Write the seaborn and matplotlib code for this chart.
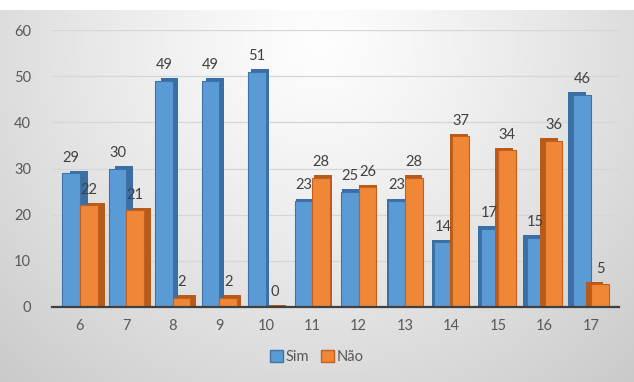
import numpy as np
import pandas as pd
import matplotlib
matplotlib.use("Agg")
import matplotlib.pyplot as plt
from matplotlib.patches import Patch
import seaborn as sns

# Chart data
categories = ["6", "7", "8", "9", "10", "11", "12", "13", "14", "15", "16", "17"]
sim = [29, 30, 49, 49, 51, 23, 25, 23, 14, 17, 15, 46]
nao = [22, 21, 2, 2, 0, 28, 26, 28, 37, 34, 36, 5]
series_names = ["Sim", "Não"]
y_ticks = [0, 10, 20, 30, 40, 50, 60]

front_colors = ["#5B9BD5", "#F08736"]
side_colors = ["#3A6FA5", "#B85A1A"]
edge_colors = ["#3F73A8", "#C2611F"]
text_color = "#595959"

df = pd.DataFrame({
    "categoria": categories * 2,
    "valor": sim + nao,
    "serie": [series_names[0]] * len(categories) + [series_names[1]] * len(categories),
})

sns.set_theme(style="white")
plt.rcParams["font.family"] = ["Lato", "DejaVu Sans"]

W, H = 634, 382
fig = plt.figure(figsize=(W / 100, H / 100), dpi=100)

# soft radial backdrop with a white band along the top edge
bg = fig.add_axes([0, 0, 1, 1], zorder=-10)
yy, xx = np.mgrid[0:H, 0:W]
r = np.sqrt(((xx - 317) / 380.0) ** 2 + ((yy - 40) / 380.0) ** 2)
g = 0.995 - 0.16 * r ** 1.2
g[yy < 10] = 1.0
g = np.clip(g, 0, 1)
bg.imshow(np.dstack([g, g, g]), extent=[0, W, H, 0], aspect="auto", interpolation="bilinear")
bg.set_axis_off()

ax = fig.add_axes([52 / W, 1 - 307 / H, (619 - 52) / W, (307 - 30) / H])
ax.set_facecolor("none")

hue_order = series_names
# darker side faces (depth), shifted sideways in perspective
sns.barplot(data=df, x="categoria", y="valor", hue="serie", order=categories,
            hue_order=hue_order, palette=side_colors, width=0.76, ax=ax,
            legend=False, saturation=1, linewidth=0)
n_side = len(ax.containers)
# front faces
sns.barplot(data=df, x="categoria", y="valor", hue="serie", order=categories,
            hue_order=hue_order, palette=front_colors, width=0.76, ax=ax,
            legend=False, saturation=1, linewidth=0.8)

px_per_unit = (619 - 52) / 12.2
depth = 0.5  # visible top-face thickness, in value units
for k, cont in enumerate(ax.containers[:n_side]):
    for i, p in enumerate(cont.patches):
        shift = 1.2 * (6.5 - i) / px_per_unit
        p.set_x(p.get_x() + shift)
        p.set_height(p.get_height() + depth)
        p.set_zorder(2 + 2 * k)
for k, cont in enumerate(ax.containers[n_side:]):
    for p in cont.patches:
        p.set_edgecolor(edge_colors[k])
        p.set_zorder(3 + 2 * k)
    ax.bar_label(cont, padding=6, fontsize=10.5, color="#404040", zorder=10)

ax.set_xlim(-0.6, 11.6)
ax.set_ylim(0, 60)
ax.set_yticks(y_ticks)
ax.yaxis.grid(True, color="#d6d6d6", linewidth=0.9)
ax.set_axisbelow(True)
for s in ["top", "right", "left"]:
    ax.spines[s].set_visible(False)
ax.spines["bottom"].set_color("#404040")
ax.spines["bottom"].set_linewidth(1.6)
ax.spines["bottom"].set_zorder(12)
ax.tick_params(axis="both", length=0, labelsize=10.5, labelcolor=text_color)
ax.tick_params(axis="x", pad=9)
ax.tick_params(axis="y", pad=15)
ax.set_xlabel("")
ax.set_ylabel("")

handles = [Patch(facecolor=front_colors[i], edgecolor=edge_colors[i], label=series_names[i])
           for i in range(2)]
leg = fig.legend(handles=handles, loc="center", bbox_to_anchor=(0.5, 1 - 357 / H), ncol=2,
                 frameon=True, fontsize=10.5, handlelength=0.9, handleheight=0.9,
                 handletextpad=0.2, columnspacing=0.8, borderpad=0.4)
leg.get_frame().set_facecolor("#dedede")
leg.get_frame().set_edgecolor("none")
leg.get_frame().set_alpha(0.6)
for t in leg.get_texts():
    t.set_color(text_color)

fig.savefig("out.png", dpi=100)
